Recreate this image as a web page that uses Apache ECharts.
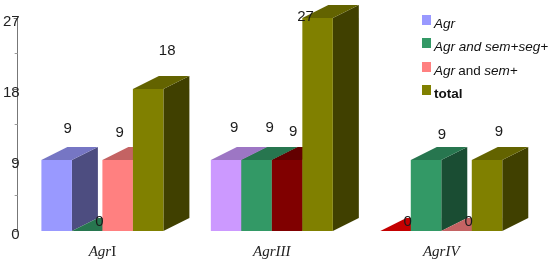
<!DOCTYPE html>
<html>
<head>
<meta charset="utf-8">
<style>
	html, body { margin: 0; padding: 0; background: #fff; }
	#chart { width: 550px; height: 263px; }
</style>
<script src="https://cdn.jsdelivr.net/npm/echarts@6/dist/echarts.min.js"></script>
</head>
<body>
<div id="chart"></div>
<script>
var categories = ['AgrI', 'AgrIII', 'AgrIV'];
var categoryLabels = ['{i|Agr}{r|I}', '{i|AgrIII}', '{i|AgrIV}'];
var yTicks = [0, 9, 18, 27];

var seriesNames = ['Agr', 'Agr and sem+seg+', 'Agr and sem+', 'total'];
var agrValues = [9, 9, 0];
var semSegValues = [0, 9, 9];
var semValues = [9, 9, 0];
var totalValues = [18, 27, 9];

var legendLabels = ['{i|Agr}', '{i|Agr and sem+seg+}', '{i|Agr} {r|and} {i|sem+}', '{b|total}'];
var legendColors = ['#9999ff', '#339966', '#ff8080', '#808000'];

// the colours change per group in the original
var barColors = [
	['#9999ff', '#cc99ff', '#ff0000'],
	['#339966', '#339966', '#339966'],
	['#ff8080', '#800000', '#ff8080'],
	['#808000', '#808000', '#808000']
];

// value labels are scattered in the original, [dx, dy] from the default spot
var labelNudge = [
	[[-2, 1], [-5, 0], [0, 0]],
	[[0, 0], [0, 0], [3, 7]],
	[[-11, 5], [-7, 4], [0, 0]],
	[[6, -6], [-25, 31], [-1, 4]]
];

var DEPTH_X = 26;
var DEPTH_Y = 13;

function shade(color, factor) {
	var c = echarts.color.parse(color);
	return 'rgb(' + Math.round(c[0] * factor) + ',' + Math.round(c[1] * factor) + ',' + Math.round(c[2] * factor) + ')';
}

function renderBar3d(params, api) {
	var s = params.seriesIndex;
	var g = params.dataIndex;
	var value = api.value(1);
	var base = api.coord([api.value(0), 0]);
	var top = api.coord([api.value(0), value]);
	var w = api.size([1, 0])[0] * 0.18;
	var x0 = base[0] + (s - 2) * w;
	var x1 = x0 + w;
	var y0 = base[1];
	var y1 = top[1];
	var color = barColors[s][g];
	var nudge = labelNudge[s][g];

	var labelX = value === 0 ? x1 - 3 : x0 + w / 2 + DEPTH_X / 2;
	var labelY = value === 0 ? y0 - 9 : y1 - 32;

	var children = [
		{
			type: 'polygon',
			shape: { points: [[x1, y1], [x1 + DEPTH_X, y1 - DEPTH_Y], [x1 + DEPTH_X, y0 - DEPTH_Y], [x1, y0]] },
			style: { fill: shade(color, 0.5) }
		},
		{
			type: 'polygon',
			shape: { points: [[x0, y1], [x1, y1], [x1 + DEPTH_X, y1 - DEPTH_Y], [x0 + DEPTH_X, y1 - DEPTH_Y]] },
			style: { fill: shade(color, 0.77) }
		},
		{
			type: 'rect',
			shape: { x: x0, y: y1, width: w, height: y0 - y1 },
			style: { fill: color }
		},
		{
			type: 'text',
			z2: 100,
			style: {
				x: labelX + nudge[0],
				y: labelY + nudge[1],
				text: String(value),
				fill: '#1a1a1a',
				font: '15px "Liberation Sans", Arial, sans-serif',
				align: 'center',
				verticalAlign: 'middle'
			}
		}
	];

	return { type: 'group', children: children };
}

function buildSeries(name, values, index) {
	return {
		name: name,
		type: 'custom',
		renderItem: renderBar3d,
		itemStyle: { color: legendColors[index] },
		encode: { x: 0, y: 1 },
		silent: true,
		data: values.map(function(v, i) { return [i, v]; })
	};
}

var chart = echarts.init(document.getElementById('chart'));

chart.setOption({
	animation: false,
	backgroundColor: '#fff',
	grid: { left: 16, width: 510, top: 18, bottom: 32 },
	legend: {
		left: 422,
		top: 15,
		padding: 0,
		orient: 'vertical',
		itemWidth: 9,
		itemHeight: 10,
		itemGap: 7,
		icon: 'rect',
		selectedMode: false,
		data: seriesNames,
		formatter: function(name) {
			return legendLabels[seriesNames.indexOf(name)];
		},
		textStyle: {
			color: '#111',
			padding: [0, 0, 0, -2],
			rich: {
				i: { fontFamily: 'Liberation Sans', fontStyle: 'italic', fontSize: 13.5, padding: [8, 0, 0, 0], color: '#111' },
				r: { fontFamily: 'Liberation Sans', fontSize: 13.5, padding: [8, 0, 0, 0], color: '#111' },
				b: { fontFamily: 'Liberation Sans', fontWeight: 'bold', fontSize: 13.5, padding: [8, 0, 0, 0], color: '#111' }
			}
		}
	},
	xAxis: {
		type: 'category',
		data: categories,
		axisLine: { show: false },
		axisTick: { show: false },
		axisLabel: {
			margin: 14,
			formatter: function(value) {
				return categoryLabels[categories.indexOf(value)];
			},
			rich: {
				i: { fontFamily: 'Liberation Serif', fontStyle: 'italic', fontSize: 15, color: '#222' },
				r: { fontFamily: 'Liberation Serif', fontSize: 15, color: '#222' }
			}
		}
	},
	yAxis: {
		type: 'value',
		min: yTicks[0],
		max: yTicks[yTicks.length - 1],
		interval: 9,
		splitLine: { show: false },
		axisLine: { show: true, lineStyle: { color: '#777', width: 1 } },
		axisTick: { show: true, length: 4, lineStyle: { color: '#777' } },
		minorTick: { show: true, splitNumber: 2, length: 3, lineStyle: { color: '#999' } },
		axisLabel: {
			margin: -2,
			color: '#222',
			fontFamily: 'Liberation Sans',
			fontSize: 15,
			verticalAlign: 'top',
			lineHeight: 14,
			padding: [-3, 0, 0, 0]
		}
	},
	series: [
		buildSeries(seriesNames[0], agrValues, 0),
		buildSeries(seriesNames[1], semSegValues, 1),
		buildSeries(seriesNames[2], semValues, 2),
		buildSeries(seriesNames[3], totalValues, 3)
	]
});
</script>
</body>
</html>
